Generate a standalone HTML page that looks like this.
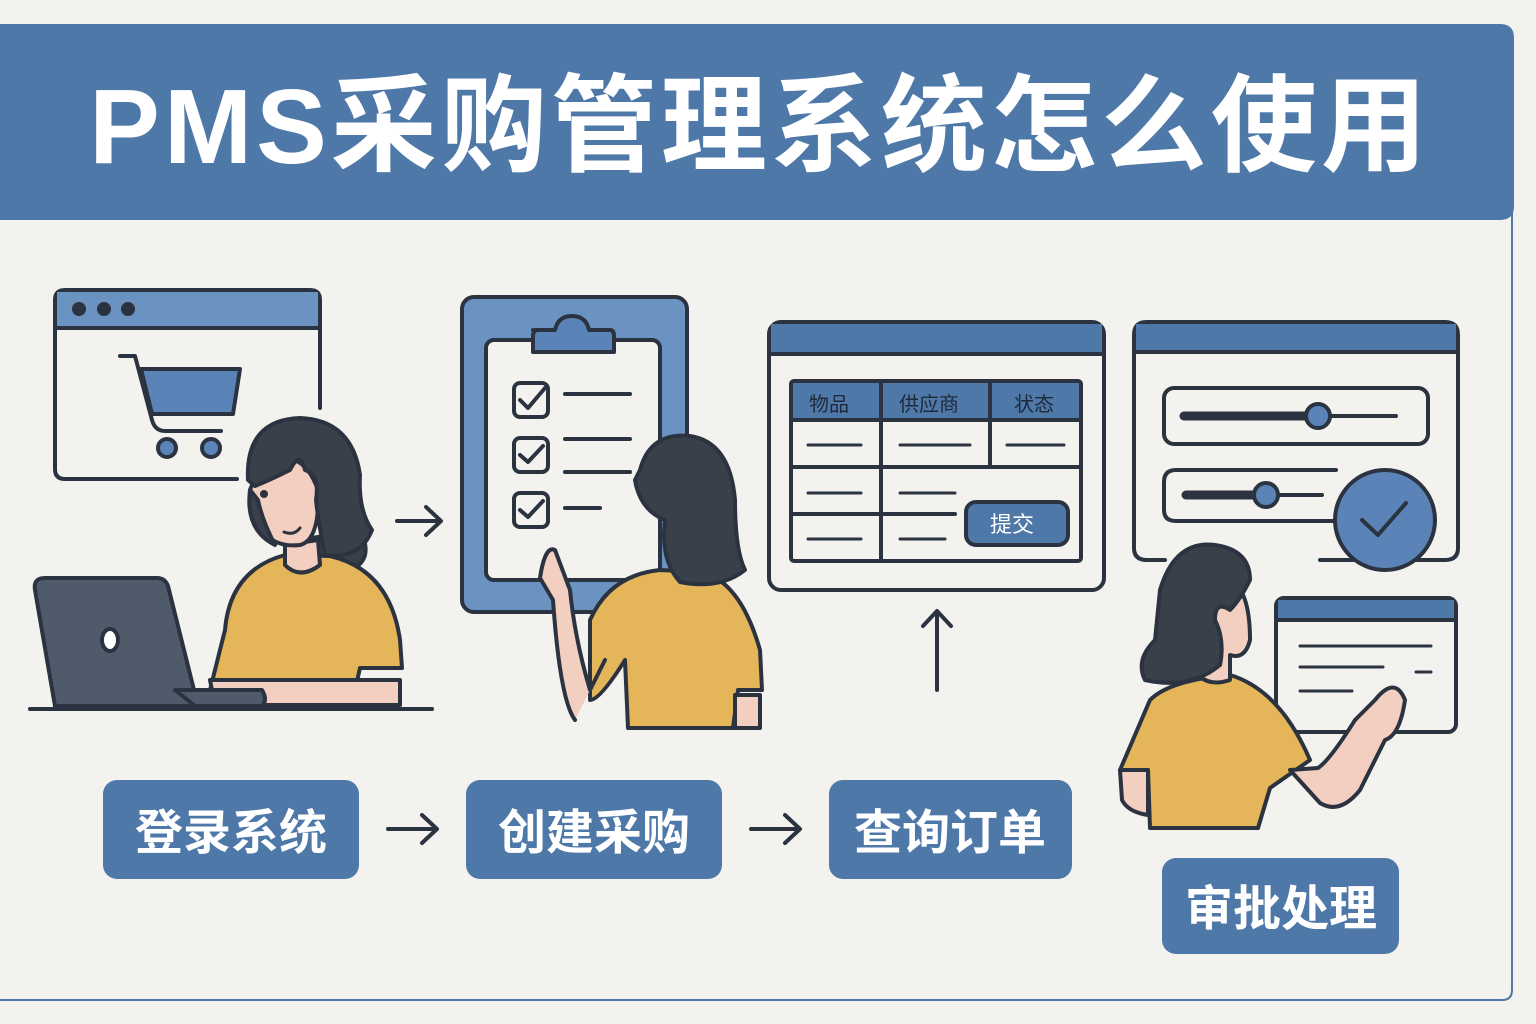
<!DOCTYPE html>
<html><head><meta charset="utf-8"><style>
html,body{margin:0;padding:0;background:#f3f2ee;}
svg{display:block}
text{font-family:"Liberation Sans","Noto Sans CJK SC",sans-serif;font-weight:bold}
</style></head><body>
<svg width="1536" height="1024" viewBox="0 0 1536 1024" xmlns="http://www.w3.org/2000/svg">
<rect width="1536" height="1024" fill="#f3f2ee"/>
<path d="M1512 200 V990 Q1512 1000 1502 1000 H0" fill="none" stroke="#4d78a8" stroke-width="2"/>
<path d="M0 24 H1500 Q1514 24 1514 38 V206 Q1514 220 1500 220 H0 Z" fill="#4d78a8"/>
<text x="760" y="163" font-size="106" fill="#fff" text-anchor="middle" letter-spacing="4">PMS采购管理系统怎么使用</text>

<g stroke="#2b3340" stroke-width="4" stroke-linecap="round" stroke-linejoin="round">
<!-- Scene 1 browser -->
<path d="M55 300 Q55 290 65 290 H310 Q320 290 320 300 V408" fill="#f3f2ee"/>
<path d="M237 479 H65 Q55 479 55 469 V300" fill="none"/>
<path d="M57 292 H318 V327 H57 Z" fill="#6b93c2" stroke="none"/>
<line x1="55" y1="328" x2="320" y2="328"/>
<circle cx="79" cy="309" r="5" fill="#2b3340"/><circle cx="104" cy="309" r="5" fill="#2b3340"/><circle cx="128" cy="309" r="5" fill="#2b3340"/>
<path d="M120 356 H135 L152 420 Q155 431 165 431 H221" fill="none"/>
<path d="M141 369 H240 L233 414 H152 Z" fill="#5a84b8"/>
<circle cx="167" cy="448" r="9" fill="#5a84b8"/><circle cx="211" cy="448" r="9" fill="#5a84b8"/>
<!-- person 1 -->
<path d="M360 530 Q375 560 350 570 Q320 560 300 540 Z" fill="#3a404a"/>
<path d="M225 630 Q230 570 285 555 L330 556 Q390 570 400 640 L402 668 H360 L355 690 H210 Z" fill="#e5b55a"/>
<path d="M210 680 H400 V705 H215 Z" fill="#f2cfc0"/>
<path d="M285 545 L285 565 Q300 580 320 565 L318 540 Z" fill="#f2cfc0"/>
<path d="M258 470 Q300 440 318 490 Q320 540 300 545 Q275 548 262 530 Q250 510 250 490 Z" fill="#f2cfc0"/>
<path d="M248 480 Q245 420 300 418 Q352 420 360 475 Q358 510 372 530 Q360 560 325 555 Q318 520 316 500 Q320 475 305 470 Q300 450 290 470 Q270 480 255 486 Z" fill="#3a404a"/>
<path d="M250 490 Q245 530 275 545 Q262 520 258 500 Z" fill="#3a404a"/>
<circle cx="264" cy="494" r="4" fill="#2b3340" stroke="none"/>
<path d="M284 532 Q294 536 300 528" fill="none" stroke-width="3"/>
<line x1="30" y1="709" x2="432" y2="709"/>
<path d="M35 590 Q33 578 45 578 H157 Q165 578 168 586 L198 706 H55 Z" fill="#4f5b6b"/>
<path d="M175 690 H262 Q268 700 262 706 H195 Z" fill="#4f5b6b"/>
<ellipse cx="110" cy="640" rx="8" ry="11" fill="#fff"/>
<!-- arrows -->
<path d="M397 521 H440 M426 507 L441 521 L426 535" fill="none"/>
<path d="M388 829 H436 M422 815 L437 829 L422 843" fill="none"/>
<path d="M751 829 H799 M785 815 L800 829 L785 843" fill="none"/>
<path d="M937 690 V612 M923 626 L937 611 L951 626" fill="none"/>

<!-- Scene 2 clipboard -->
<rect x="462" y="297" width="225" height="315" rx="12" fill="#6b93c2"/>
<rect x="486" y="340" width="174" height="240" rx="8" fill="#f3f2ee"/>
<path d="M533 330 H555 Q558 316 572 316 Q586 316 589 330 H610 Q614 330 614 336 V352 H533 V336 Q533 330 538 330 Z" fill="#5a84b8"/>
<rect x="514" y="383" width="34" height="34" rx="6" fill="none"/><path d="M520 400 L528 408 L545 388" fill="none"/>
<rect x="514" y="438" width="34" height="34" rx="6" fill="none"/><path d="M520 455 L528 462 L543 446" fill="none"/>
<rect x="514" y="493" width="34" height="34" rx="6" fill="none"/><path d="M520 510 L528 517 L543 501" fill="none"/>
<line x1="565" y1="394" x2="630" y2="394"/><line x1="565" y1="439" x2="630" y2="439"/><line x1="565" y1="472" x2="630" y2="472"/><line x1="565" y1="508" x2="600" y2="508"/>
<!-- person 2 -->
<path d="M590 620 Q610 575 660 570 L700 572 Q740 580 760 650 L762 690 H738 L733 728 H628 L625 660 Q600 700 590 700 Z" fill="#e5b55a"/>
<path d="M575 720 Q560 700 553 600 L540 578 Q545 545 555 550 L570 590 Q575 640 590 690 L605 660" fill="#f2cfc0"/>
<path d="M735 695 H760 V728 H735 Z" fill="#f2cfc0"/>
<path d="M640 470 Q650 432 690 436 Q730 442 735 500 Q735 550 745 570 Q720 590 680 582 Q660 560 665 520 Q640 510 635 480 Z" fill="#3a404a"/>

<!-- Scene 3 table window -->
<rect x="769" y="322" width="335" height="268" rx="12" fill="#f3f2ee"/>
<path d="M771 324 H1102 V354 H771 Z" fill="#4d78a8" stroke="none"/>
<line x1="769" y1="354" x2="1104" y2="354"/>
<rect x="791" y="381" width="290" height="180" rx="3" fill="#f3f2ee"/>
<rect x="793" y="383" width="286" height="36" fill="#4d78a8" stroke="none"/>
<line x1="791" y1="420" x2="1081" y2="420"/><line x1="791" y1="467" x2="1081" y2="467"/><line x1="791" y1="514" x2="955" y2="514"/>
<line x1="881" y1="381" x2="881" y2="561"/><line x1="990" y1="381" x2="990" y2="467"/>
<g stroke-width="3"><line x1="808" y1="445" x2="861" y2="445"/><line x1="900" y1="445" x2="970" y2="445"/><line x1="1007" y1="445" x2="1064" y2="445"/>
<line x1="808" y1="493" x2="861" y2="493"/><line x1="900" y1="493" x2="955" y2="493"/>
<line x1="808" y1="539" x2="861" y2="539"/><line x1="900" y1="539" x2="945" y2="539"/></g>
<rect x="966" y="502" width="102" height="43" rx="10" fill="#4d78a8"/>

<!-- Scene 4 -->
<path d="M1320 560 H1445 Q1458 560 1458 548 V335 Q1458 322 1445 322 H1147 Q1134 322 1134 335 V548 Q1134 560 1147 560 H1165" fill="#f3f2ee"/>
<path d="M1136 324 H1456 V352 H1136 Z" fill="#4d78a8" stroke="none"/>
<line x1="1134" y1="352" x2="1458" y2="352"/>
<rect x="1164" y="388" width="264" height="56" rx="10" fill="#f3f2ee"/>
<line x1="1184" y1="416" x2="1396" y2="416"/><line x1="1184" y1="416" x2="1318" y2="416" stroke-width="9"/>
<circle cx="1318" cy="416" r="12" fill="#5a84b8"/>
<path d="M1336 470 H1176 Q1164 470 1164 482 V510 Q1164 521 1176 521 H1335" fill="none"/>
<line x1="1186" y1="495" x2="1322" y2="495"/><line x1="1186" y1="495" x2="1266" y2="495" stroke-width="9"/>
<circle cx="1266" cy="495" r="12" fill="#5a84b8"/>
<circle cx="1385" cy="520" r="50" fill="#5a84b8"/>
<path d="M1362 520 L1378 535 L1406 503" fill="none"/>
<rect x="1276" y="598" width="180" height="134" rx="8" fill="#f3f2ee"/>
<path d="M1278 600 H1454 V620 H1278 Z" fill="#4d78a8" stroke="none"/>
<line x1="1276" y1="620" x2="1456" y2="620"/>
<g stroke-width="3"><line x1="1300" y1="646" x2="1431" y2="646"/><line x1="1300" y1="667" x2="1383" y2="667"/><line x1="1416" y1="672" x2="1431" y2="672"/><line x1="1300" y1="691" x2="1352" y2="691"/><line x1="1312" y1="732" x2="1332" y2="732"/></g>
<!-- person 4 -->
<path d="M1150 700 Q1170 680 1230 675 Q1280 690 1310 760 L1270 788 L1258 828 H1150 L1148 770 H1120 Z" fill="#e5b55a"/>
<path d="M1120 770 H1148 V815 Q1128 812 1122 800 Z" fill="#f2cfc0"/>
<path d="M1290 770 L1320 803 Q1340 815 1360 790 L1385 740 Q1400 735 1405 700 Q1395 675 1375 700 L1355 720 Q1330 760 1318 768 Z" fill="#f2cfc0"/>
<path d="M1230 580 Q1250 590 1250 640 Q1245 660 1230 655 L1230 680 Q1200 690 1190 660 Z" fill="#f2cfc0"/>
<path d="M1160 590 Q1175 540 1215 545 Q1250 550 1250 580 Q1240 600 1230 610 Q1215 600 1215 620 Q1225 640 1220 665 Q1190 690 1145 680 Q1135 660 1155 640 Z" fill="#3a404a"/>
</g>

<g font-size="20" fill="#1f2a3a">
<text x="809" y="411" style="font-weight:normal">物品</text>
<text x="899" y="411" style="font-weight:normal">供应商</text>
<text x="1014" y="411" style="font-weight:normal">状态</text>
</g>
<text x="990" y="532" font-size="22" fill="#fff" style="font-weight:normal">提交</text>

<rect x="103" y="780" width="256" height="99" rx="14" fill="#4d78a8"/>
<text x="231" y="849" font-size="48" fill="#fff" text-anchor="middle">登录系统</text>
<rect x="466" y="780" width="256" height="99" rx="14" fill="#4d78a8"/>
<text x="594" y="849" font-size="48" fill="#fff" text-anchor="middle">创建采购</text>
<rect x="829" y="780" width="243" height="99" rx="14" fill="#4d78a8"/>
<text x="950" y="849" font-size="48" fill="#fff" text-anchor="middle">查询订单</text>
<rect x="1162" y="858" width="237" height="96" rx="14" fill="#4d78a8"/>
<text x="1281" y="925" font-size="48" fill="#fff" text-anchor="middle">审批处理</text>
</svg>
</body></html>
